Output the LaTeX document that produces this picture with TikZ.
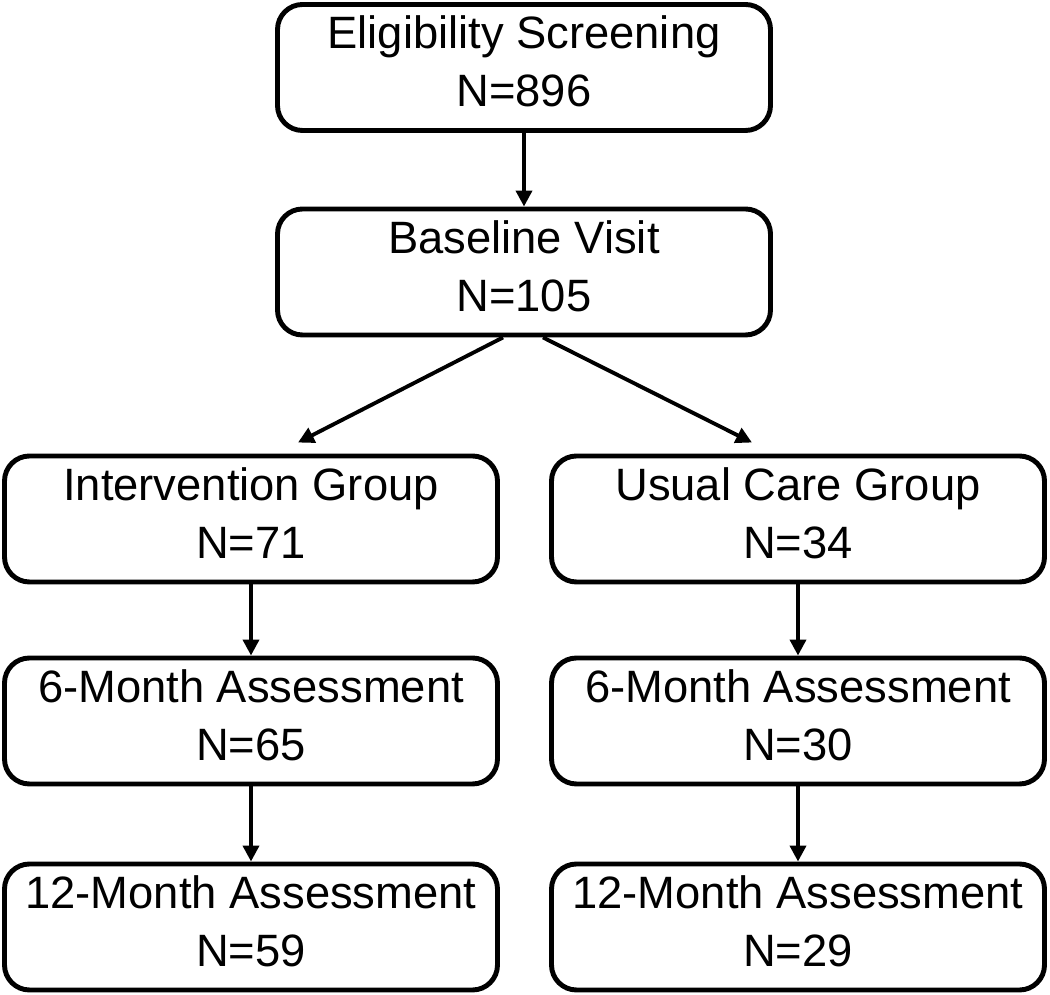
\documentclass[tikz,border=0pt]{standalone}
\usepackage{fontspec}
\setmainfont{Liberation Sans}
\usepackage{tikz}
\usetikzlibrary{shapes,arrows,positioning,calc,arrows.meta}

\tikzset{
    box/.style={draw, line width=2.8pt, rounded corners=0.5cm, minimum width=9.86cm, minimum height=2.52cm, align=center, inner sep=0pt, text depth=0.24cm, font=\fontsize{25.8}{33}\selectfont},
    arr/.style={line width=2.2pt, -{Triangle[length=0.32cm,width=0.32cm]}}
}

\begin{document}
\begin{tikzpicture}
    \useasboundingbox (0,0) rectangle (21,-19.9);
    \node [box] (elig) at (10.48,-1.35) {Eligibility Screening\\N=896};
    \node [box] (base) at (10.48,-5.44) {Baseline Visit\\N=105};
    \node [box] (int) at (5.02,-10.38) {Intervention Group\\N=71};
    \node [box] (usual) at (15.96,-10.38) {Usual Care Group\\N=34};
    \node [box] (int6) at (5.02,-14.42) {6-Month Assessment\\N=65};
    \node [box] (usual6) at (15.96,-14.42) {6-Month Assessment\\N=30};
    \node [box] (int12) at (5.02,-18.54) {12-Month Assessment\\N=59};
    \node [box] (usual12) at (15.96,-18.54) {12-Month Assessment\\N=29};

    % Flow
    \draw [arr] (elig.south) -- (base.north);
    \draw [arr] ([xshift=-0.42cm]base.south) -- ([xshift=0.94cm,yshift=0.22cm]int.north);
    \draw [arr] ([xshift=0.38cm]base.south) -- ([xshift=-0.92cm,yshift=0.22cm]usual.north);
    \draw [arr] (int.south) -- (int6.north);
    \draw [arr] (usual.south) -- (usual6.north);
    \draw [arr] (int6.south) -- (int12.north);
    \draw [arr] (usual6.south) -- (usual12.north);
\end{tikzpicture}
\end{document}
